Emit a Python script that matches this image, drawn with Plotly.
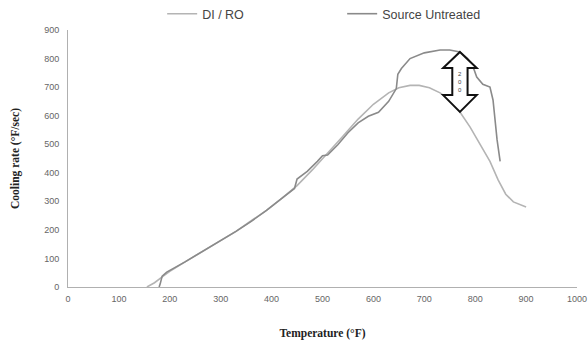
import plotly.graph_objects as go

# DI / RO series
di_temp = [155, 170, 187, 200, 230, 260, 300, 330, 360, 390, 420, 450, 480, 510, 540, 570,
           600, 630, 650, 672, 690, 710, 731, 750, 770, 790, 810, 829, 845, 860, 875, 890, 900]
di_rate = [0, 15, 38, 55, 88, 120, 160, 195, 232, 268, 310, 355, 410, 468, 528, 588,
           640, 680, 698, 706, 706, 698, 680, 655, 613, 560, 500, 440, 375, 325, 298, 287, 280]

# Source Untreated series
src_temp = [179, 181, 185, 194, 230, 260, 300, 330, 360, 390, 420, 445, 450, 455, 470, 490,
            500, 510, 530, 550, 570, 590, 610, 630, 645, 648, 655, 672, 700, 731, 750, 770,
            785, 795, 803, 815, 829, 835, 843, 849]
src_rate = [0, 10, 38, 52, 88, 120, 160, 195, 230, 268, 310, 345, 378, 385, 405, 440,
            460, 462, 498, 540, 575, 598, 612, 650, 695, 745, 765, 800, 820, 830, 830, 823,
            800, 775, 735, 710, 700, 655, 515, 440]

# axis ticks
x_ticks = [0, 100, 200, 300, 400, 500, 600, 700, 800, 900, 1000]
y_ticks = [0, 100, 200, 300, 400, 500, 600, 700, 800, 900]

# double arrow annotation (data units)
arrow_x = 770
arrow_top, arrow_head1, arrow_head2, arrow_bot = 823, 767, 672, 613
head_half, shaft_half = 33, 15
arrow_label = "2<br>0<br>0"

fig = go.Figure()
fig.add_trace(go.Scatter(x=di_temp, y=di_rate, mode="lines", name="DI / RO",
                         line=dict(color="#b4b4b4", width=1.6)))
fig.add_trace(go.Scatter(x=src_temp, y=src_rate, mode="lines", name="Source Untreated",
                         line=dict(color="#8a8a8a", width=1.6)))

ax = arrow_x
path = (f"M {ax},{arrow_top} L {ax+head_half},{arrow_head1} L {ax+shaft_half},{arrow_head1} "
        f"L {ax+shaft_half},{arrow_head2} L {ax+head_half},{arrow_head2} L {ax},{arrow_bot} "
        f"L {ax-head_half},{arrow_head2} L {ax-shaft_half},{arrow_head2} "
        f"L {ax-shaft_half},{arrow_head1} L {ax-head_half},{arrow_head1} Z")
fig.add_shape(type="path", path=path, xref="x", yref="y",
              line=dict(color="#111111", width=2), fillcolor="white")
fig.add_annotation(x=ax, y=(arrow_head1 + arrow_head2) / 2, xref="x", yref="y",
                   text=arrow_label, showarrow=False,
                   font=dict(family="Liberation Sans", size=6, color="#444444"))

fig.update_layout(
    width=588, height=345,
    margin=dict(l=68, r=11, t=30, b=58, autoexpand=False),
    paper_bgcolor="white", plot_bgcolor="white",
    showlegend=True,
    legend=dict(orientation="h", x=0.185, y=1.062, xanchor="left", yanchor="middle",
                xref="paper", yref="paper", entrywidth=135,
                font=dict(family="Liberation Sans", size=12.5, color="#444444"),
                bgcolor="rgba(0,0,0,0)", itemwidth=30),
    xaxis=dict(range=[0, 1000], tickvals=x_ticks, showgrid=False, zeroline=False,
               showline=True, linecolor="#b0b0b0", linewidth=1, ticklabelstandoff=3,
               tickfont=dict(family="Liberation Sans", size=9, color="#666666"),
               title=dict(text="Temperature (°F)", standoff=26,
                          font=dict(family="Liberation Serif", size=11.5, color="#222222",
                                    weight="bold"))),
    yaxis=dict(range=[0, 900], tickvals=y_ticks, showgrid=False, zeroline=False,
               showline=True, linecolor="#b0b0b0", linewidth=1, ticklabelstandoff=6,
               tickfont=dict(family="Liberation Sans", size=9, color="#666666"),
               title=dict(text="Cooling rate (°F/sec)", standoff=22,
                          font=dict(family="Liberation Serif", size=11.5, color="#222222",
                                    weight="bold"))),
)

fig.write_html("out.html")
